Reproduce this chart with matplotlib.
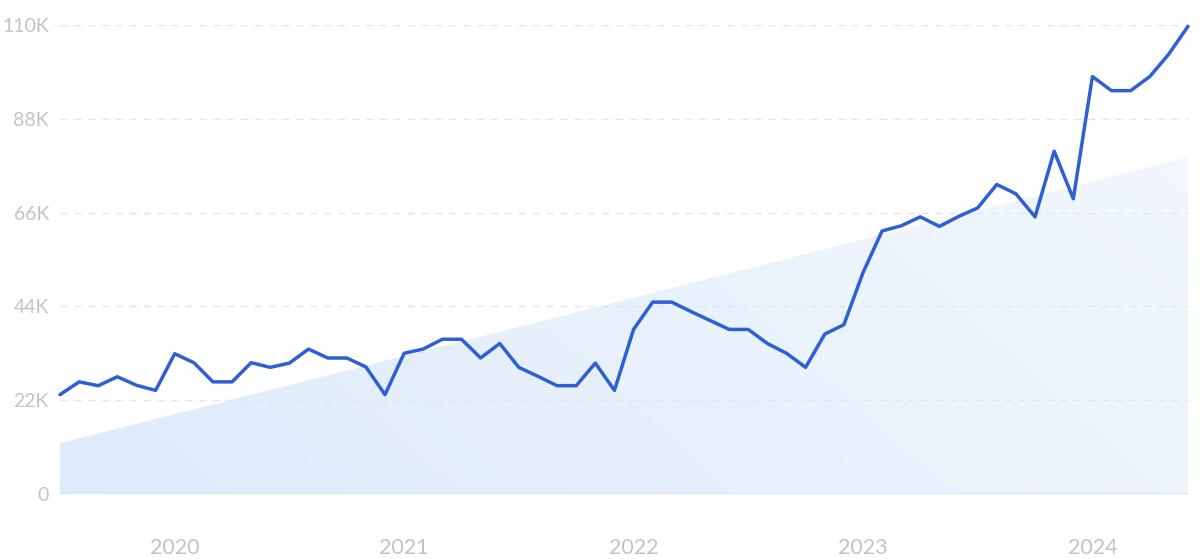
import numpy as np
import matplotlib
matplotlib.use("Agg")
from matplotlib import pyplot as plt
from matplotlib.patches import Polygon

# monthly search volume, Jul 2019 - Jun 2024 (thousands)
months = np.arange(60)
volume = [23.3, 26.3, 25.4, 27.5, 25.5, 24.3, 32.9, 30.8, 26.3, 26.3,
          30.8, 29.7, 30.7, 34.0, 31.9, 31.9, 29.8, 23.3, 33.0, 34.0,
          36.3, 36.3, 31.9, 35.3, 29.7, 27.6, 25.4, 25.4, 30.7, 24.3,
          38.6, 45.0, 45.0, 42.8, 40.7, 38.6, 38.6, 35.3, 33.0, 29.7,
          37.5, 39.7, 51.9, 61.7, 62.9, 65.0, 62.75, 65.1, 67.1, 72.6,
          70.4, 65.0, 80.4, 69.25, 97.9, 94.6, 94.6, 97.9, 103.2, 109.7]
trend_ends = [11.9, 79.0]

year_pos = [6, 18, 30, 42, 54]
year_labels = ["2020", "2021", "2022", "2023", "2024"]
y_ticks = [0, 22, 44, 66, 88, 110]
y_labels = ["0", "22K", "44K", "66K", "88K", "110K"]

plt.rcParams['font.family'] = ['Lato', 'DejaVu Sans']

fig = plt.figure(figsize=(12, 5.59), dpi=100)
ax = fig.add_axes([60/1200, 65/559, 1128/1200, 469/559])
ax.set_xlim(0, 59)
ax.set_ylim(0, 110)

# trend area with soft gradient
x0, x1 = months[0], months[-1]
poly = Polygon([(x0, 0), (x0, trend_ends[0]), (x1, trend_ends[1]), (x1, 0)],
               closed=True, facecolor='none', edgecolor='none')
ax.add_patch(poly)
gx, gy = np.meshgrid(np.linspace(0, 1, 200), np.linspace(0, 1, 100))
g = 0.75 * gx + 0.25 * (1 - gy)
c0 = np.array([0.87, 0.92, 0.98])
c1 = np.array([0.95, 0.97, 0.995])
img = c0 + (c1 - c0) * g[..., None]
im = ax.imshow(img, extent=[x0, x1, 0, trend_ends[1]], origin='upper',
               aspect='auto', zorder=1)
im.set_clip_path(poly)
ax.plot([x0, x1], [0, 0], color='#d3e1f5', lw=1.2, zorder=2)

for yt in y_ticks[1:]:
    ax.axhline(yt, color='#dfe5ef', lw=1, ls=(0, (5, 5)), zorder=1.5)

ax.plot(months, volume, color='#2d5fd5', lw=2.5, solid_joinstyle='round',
        solid_capstyle='round', zorder=3, clip_on=False)

ax.set_yticks(y_ticks)
ax.set_yticklabels(y_labels)
ax.set_xticks(year_pos)
ax.set_xticklabels(year_labels)
ax.tick_params(axis='y', length=0, pad=8, labelsize=14, labelcolor='#c0c3ca')
ax.tick_params(axis='x', length=0, pad=32, labelsize=15.5, labelcolor='#c0c3ca')
for s in ax.spines.values():
    s.set_visible(False)

fig.savefig("out.png", dpi=100)
